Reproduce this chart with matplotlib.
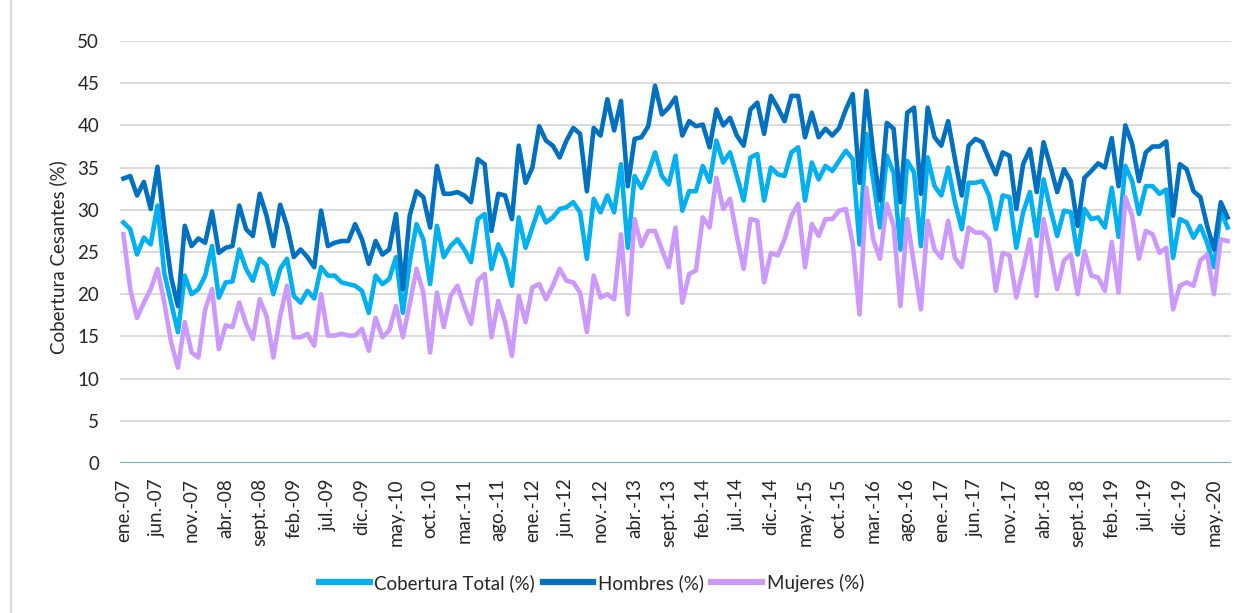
import numpy as np
import matplotlib.pyplot as plt
from matplotlib.lines import Line2D

plt.rcParams['font.family'] = ['Lato', 'DejaVu Sans']

# serie mensual ene-07 .. jul-20
meses = ["ene.", "feb.", "mar.", "abr.", "may.", "jun.", "jul.", "ago.", "sept.", "oct.", "nov.", "dic."]
anio_inicio = 2007

total = [28.5, 27.7, 24.7, 26.7, 25.9, 30.5, 22.5, 19.0, 15.5, 22.2, 20.0, 20.6, 22.2, 25.7,
         19.6, 21.4, 21.5, 25.3, 23.0, 21.6, 24.2, 23.4, 20.0, 23.0, 24.2, 19.8, 19.0, 20.4,
         19.5, 23.2, 22.2, 22.2, 21.4, 21.2, 21.0, 20.4, 17.8, 22.2, 21.2, 21.8, 24.4, 17.8,
         23.8, 28.3, 26.5, 21.2, 28.1, 24.4, 25.7, 26.5, 25.3, 23.8, 28.9, 29.5, 23.0, 25.9,
         24.2, 21.0, 29.1, 25.5, 27.9, 30.3, 28.5, 29.1, 30.1, 30.3, 30.9, 29.7, 24.2, 31.3,
         29.7, 31.7, 29.7, 35.4, 25.5, 34.0, 32.6, 34.4, 36.8, 34.0, 33.0, 36.4, 29.9, 32.2,
         32.2, 35.2, 33.3, 38.2, 35.6, 36.8, 34.0, 31.1, 36.2, 36.6, 31.1, 35.0, 34.2, 34.0,
         36.8, 37.4, 31.1, 35.6, 33.6, 35.2, 34.6, 35.8, 37.0, 36.0, 25.9, 39.0, 33.6, 27.9,
         36.4, 34.4, 25.3, 35.8, 34.4, 25.7, 36.2, 32.8, 31.7, 35.0, 30.9, 27.7, 33.2, 33.2,
         33.4, 31.7, 27.7, 31.7, 31.5, 25.5, 29.7, 32.1, 26.9, 33.6, 30.1, 26.9, 29.9, 29.7,
         24.7, 30.1, 28.9, 29.1, 27.9, 32.6, 26.8, 35.2, 33.4, 29.5, 32.8, 32.8, 31.9, 32.4,
         24.3, 28.9, 28.5, 26.7, 28.1, 26.1, 23.2, 29.9, 27.9]

hombres = [33.7, 34.0, 31.7, 33.3, 30.1, 35.1, 28.0, 22.0, 18.6, 28.1, 25.7, 26.6, 26.1, 29.8,
           24.9, 25.5, 25.7, 30.5, 27.7, 26.9, 31.9, 29.3, 25.7, 30.6, 28.1, 24.4, 25.3, 24.4,
           23.2, 29.9, 25.7, 26.1, 26.3, 26.3, 28.3, 26.5, 23.6, 26.3, 24.7, 25.3, 29.5, 20.6,
           29.3, 32.2, 31.5, 27.9, 35.2, 31.9, 31.9, 32.1, 31.7, 30.9, 36.0, 35.4, 27.5, 31.9,
           31.7, 28.9, 37.6, 33.2, 35.0, 39.9, 38.2, 37.6, 36.2, 38.2, 39.7, 39.0, 32.2, 39.7,
           38.8, 43.1, 39.4, 42.9, 32.8, 38.4, 38.6, 39.9, 44.7, 41.3, 42.1, 43.3, 38.8, 40.5,
           39.9, 40.1, 37.4, 41.9, 40.0, 40.9, 38.8, 37.6, 41.9, 42.7, 39.0, 43.5, 42.1, 40.5,
           43.5, 43.5, 38.6, 41.5, 38.6, 39.6, 38.8, 39.7, 41.9, 43.7, 33.2, 44.1, 36.8, 31.1,
           40.3, 39.6, 30.9, 41.5, 42.1, 31.9, 42.1, 38.6, 37.6, 40.5, 36.0, 31.7, 37.6, 38.4,
           38.0, 36.0, 34.2, 36.8, 36.4, 30.1, 35.4, 37.2, 32.1, 38.0, 35.2, 32.1, 34.8, 33.4,
           28.1, 33.8, 34.6, 35.5, 35.0, 38.5, 32.8, 40.0, 37.8, 33.4, 36.8, 37.5, 37.5, 38.1,
           29.3, 35.4, 34.8, 32.2, 31.5, 28.1, 25.3, 30.9, 29.1]

mujeres = [27.1, 20.6, 17.2, 19.0, 20.6, 23.0, 19.0, 14.3, 11.3, 16.7, 13.1, 12.5, 18.2, 20.6,
           13.5, 16.3, 16.1, 19.0, 16.5, 14.7, 19.4, 17.4, 12.5, 17.4, 21.0, 14.9, 14.9, 15.3,
           13.9, 20.0, 15.1, 15.1, 15.3, 15.1, 15.1, 15.9, 13.3, 17.2, 14.9, 15.7, 18.6, 14.9,
           18.8, 23.0, 20.2, 13.1, 20.2, 16.1, 19.8, 21.0, 18.6, 16.5, 21.6, 22.4, 14.9, 19.2,
           16.7, 12.7, 19.8, 16.7, 20.8, 21.2, 19.4, 21.0, 23.0, 21.6, 21.4, 20.2, 15.5, 22.2,
           19.6, 20.0, 19.4, 27.1, 17.6, 28.9, 25.7, 27.5, 27.5, 25.3, 23.2, 27.9, 19.0, 22.4,
           22.8, 29.1, 27.9, 33.8, 30.1, 31.3, 26.9, 23.0, 28.9, 28.7, 21.4, 24.9, 24.6, 26.5,
           29.3, 30.7, 23.2, 28.3, 26.9, 28.9, 28.9, 29.9, 30.1, 26.0, 17.6, 32.6, 26.5, 24.2,
           30.7, 28.1, 18.6, 28.9, 23.5, 18.2, 28.7, 25.3, 24.3, 28.7, 24.3, 23.2, 27.9, 27.3,
           27.3, 26.5, 20.4, 24.9, 24.6, 19.6, 23.0, 26.5, 19.8, 28.9, 24.9, 20.6, 24.0, 24.7,
           20.0, 25.1, 22.2, 22.0, 20.4, 26.2, 20.2, 31.5, 29.3, 24.2, 27.5, 27.1, 24.9, 25.5,
           18.2, 21.0, 21.4, 21.0, 24.0, 24.7, 20.0, 26.5, 26.3]

n = len(total)
fechas = [meses[k % 12] + "-" + "%02d" % ((anio_inicio + k // 12) % 100) for k in range(n)]
x = np.arange(n)

fig = plt.figure(figsize=(12.48, 6.13), dpi=100)
ax = fig.add_axes([120/1248, 150/613, 1111/1248, 422/613])

for yv in range(5, 55, 5):
    ax.axhline(yv, color="#d9d9d9", lw=1.3, zorder=0)
ax.axhline(0, color="#6bb8b5", lw=1.6, zorder=1)

ax.plot(x, total, color="#00b0f0", lw=3.3, label="Cobertura Total (%)", zorder=2)
ax.plot(x, hombres, color="#0070c0", lw=3.3, label="Hombres (%)", zorder=3)
ax.plot(x, mujeres, color="#cc99ff", lw=3.3, label="Mujeres (%)", zorder=4)

ax.set_xlim(-0.5, n - 0.5)
ax.set_ylim(0, 50)
ax.set_yticks(range(0, 55, 5))
ax.set_xticks(x[::5])
ax.set_xticklabels(fechas[::5], rotation=90, va="top", ha="center")
ax.tick_params(axis="both", length=0, labelsize=13.5, colors="#262626")
ax.tick_params(axis="y", pad=15)
ax.tick_params(axis="x", pad=11)
for s in ax.spines.values():
    s.set_visible(False)

fig.text(58/1248, 1 - 257/613, "Cobertura Cesantes (%)", rotation=90,
         ha="center", va="center", fontsize=13.5, color="#262626")

fig.legend(loc="center", bbox_to_anchor=(0.474, 1 - 583/613), ncol=3, frameon=False,
           fontsize=13.5, handlelength=2.7, handletextpad=0.25, columnspacing=0.4,
           labelcolor="#262626")
for h in fig.legends[0].get_lines():
    h.set_linewidth(4.5)

fig.add_artist(Line2D([11/1248, 11/1248], [0, 1], transform=fig.transFigure,
                      color="#d9d9d9", lw=1.5))

plt.savefig("out.png", dpi=100)
